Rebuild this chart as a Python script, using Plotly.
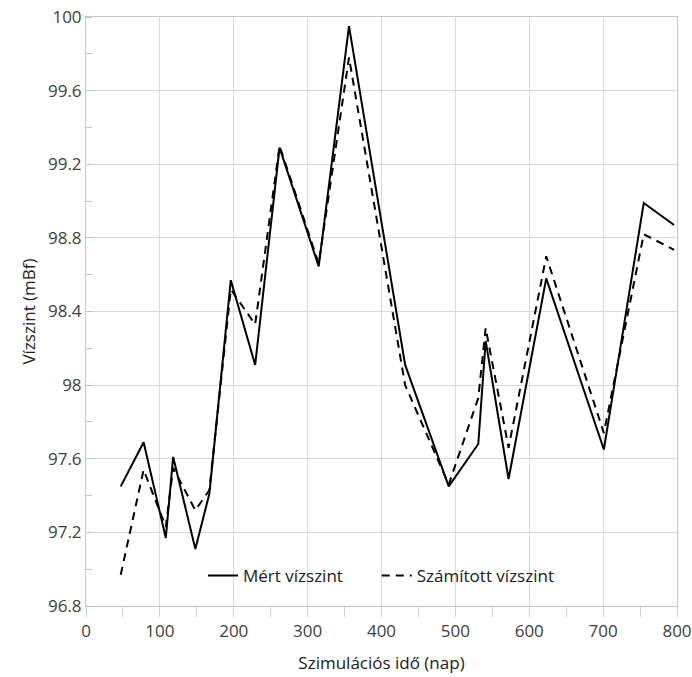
import plotly.graph_objects as go

days = [47, 78, 108, 118, 148, 167, 196, 229, 262, 315, 356, 432, 491, 531, 541, 572, 623, 701, 755, 796]
measured = [97.45, 97.69, 97.17, 97.61, 97.11, 97.41, 98.57, 98.11, 99.29, 98.645, 99.95, 98.11, 97.45, 97.68, 98.24, 97.49, 98.58, 97.65, 98.99, 98.87]
computed = [96.97, 97.54, 97.23, 97.55, 97.32, 97.43, 98.52, 98.33, 99.30, 98.66, 99.78, 98.00, 97.46, 97.93, 98.31, 97.66, 98.70, 97.74, 98.82, 98.735]

x_ticks = [0, 100, 200, 300, 400, 500, 600, 700, 800]
y_ticks = [96.8, 97.2, 97.6, 98.0, 98.4, 98.8, 99.2, 99.6, 100.0]
y_labels = ["96.8", "97.2", "97.6", "98", "98.4", "98.8", "99.2", "99.6", "100"]

fig = go.Figure()
fig.add_trace(go.Scatter(x=days, y=measured, mode="lines", name="Mért vízszint",
                         line=dict(color="black", width=2), legend="legend"))
fig.add_trace(go.Scatter(x=days, y=computed, mode="lines", name="Számított vízszint",
                         line=dict(color="black", width=2, dash="8px,6px"), legend="legend2"))

font = "Open Sans, Segoe UI, sans-serif"
leg_common = dict(orientation="h", y=0.051, xanchor="left", yanchor="middle",
                  font=dict(size=17, color="#202020"), bgcolor="rgba(0,0,0,0)")
fig.update_layout(
    width=692, height=677,
    margin=dict(l=86, r=15, t=17, b=71),
    paper_bgcolor="white", plot_bgcolor="white",
    font=dict(family=font, size=17, color="#404040"),
    showlegend=True,
    legend=dict(x=0.198, **leg_common),
    legend2=dict(x=0.492, **leg_common),
    xaxis=dict(range=[0, 800], tickvals=x_ticks, ticktext=[str(v) for v in x_ticks],
               automargin=False,
               showgrid=True, gridcolor="#d9d9d9", gridwidth=1, zeroline=False,
               showline=True, linecolor="#c8c8c8", linewidth=1, mirror=True,
               ticks="outside", ticklen=10, tickcolor="#d0d0d0",
               minor=dict(dtick=50, ticks="outside", ticklen=10, tickcolor="#d0d0d0", showgrid=False),
               tickfont=dict(size=17, color="#404040"),
               title=dict(text="Szimulációs idő (nap)", font=dict(size=17, color="#202020"), standoff=15)),
    yaxis=dict(range=[96.8, 100], tickvals=y_ticks, ticktext=y_labels,
               automargin=False,
               showgrid=True, gridcolor="#d9d9d9", gridwidth=1, zeroline=False,
               showline=True, linecolor="#c8c8c8", linewidth=1, mirror=True,
               ticks="", minor=dict(dtick=0.2, tick0=96.8, ticks="inside", ticklen=6, tickcolor="#c0c0c0", showgrid=False),
               tickfont=dict(size=17, color="#404040"),
               title=dict(text="Vízszint (mBf)", font=dict(size=17, color="#202020"), standoff=8)),
)

fig.write_html("out.html")
